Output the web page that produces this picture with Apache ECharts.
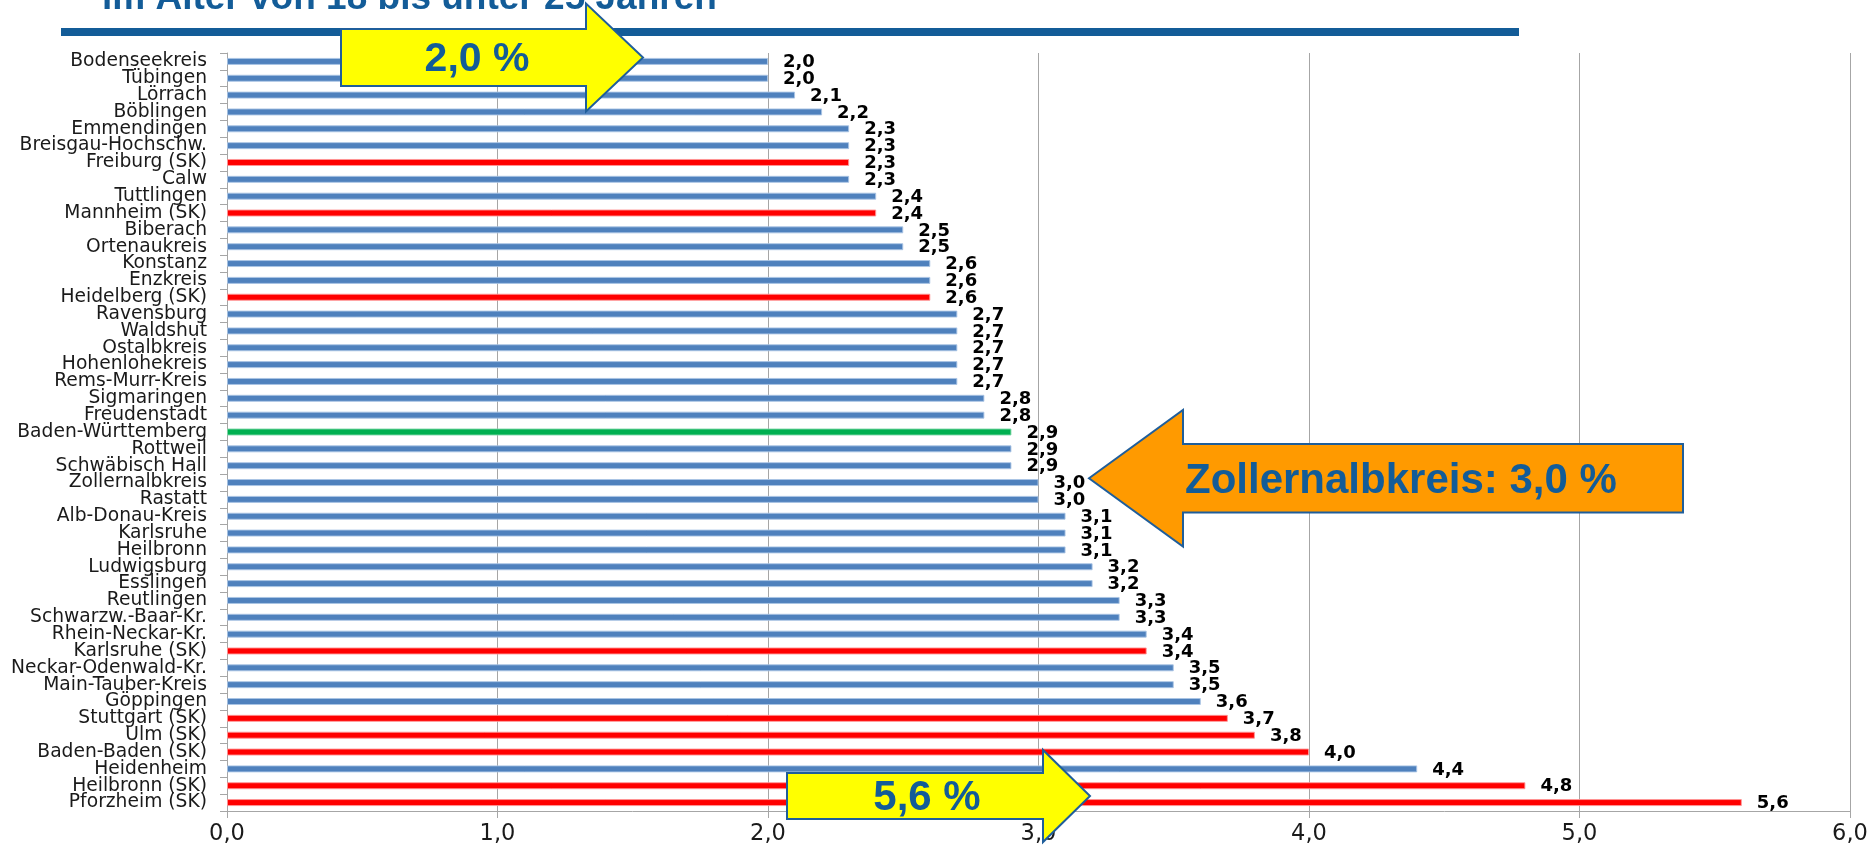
<!DOCTYPE html>
<html>
<head>
<meta charset="utf-8">
<script src="https://cdn.jsdelivr.net/npm/echarts@6/dist/echarts.min.js"></script>
<style>
html,body{margin:0;padding:0;background:#fff;}
#chart{width:1876px;height:846px;}
</style>
</head>
<body>
<div id="chart"></div>
<script>
const titleText = 'im Alter von 18 bis unter 25 Jahren';

const categories = [
  'Bodenseekreis','Tübingen','Lörrach','Böblingen','Emmendingen','Breisgau-Hochschw.',
  'Freiburg (SK)','Calw','Tuttlingen','Mannheim (SK)','Biberach','Ortenaukreis',
  'Konstanz','Enzkreis','Heidelberg (SK)','Ravensburg','Waldshut','Ostalbkreis',
  'Hohenlohekreis','Rems-Murr-Kreis','Sigmaringen','Freudenstadt','Baden-Württemberg',
  'Rottweil','Schwäbisch Hall','Zollernalbkreis','Rastatt','Alb-Donau-Kreis',
  'Karlsruhe','Heilbronn','Ludwigsburg','Esslingen','Reutlingen','Schwarzw.-Baar-Kr.',
  'Rhein-Neckar-Kr.','Karlsruhe (SK)','Neckar-Odenwald-Kr.','Main-Tauber-Kreis',
  'Göppingen','Stuttgart (SK)','Ulm (SK)','Baden-Baden (SK)','Heidenheim',
  'Heilbronn (SK)','Pforzheim (SK)'
];

const values = [
  2.0, 2.0, 2.1, 2.2, 2.3, 2.3,
  2.3, 2.3, 2.4, 2.4, 2.5, 2.5,
  2.6, 2.6, 2.6, 2.7, 2.7, 2.7,
  2.7, 2.7, 2.8, 2.8, 2.9,
  2.9, 2.9, 3.0, 3.0, 3.1,
  3.1, 3.1, 3.2, 3.2, 3.3, 3.3,
  3.4, 3.4, 3.5, 3.5,
  3.6, 3.7, 3.8, 4.0, 4.4,
  4.8, 5.6
];

// K = Landkreis, S = Stadtkreis, L = Land
const groups = [
  'K','K','K','K','K','K',
  'S','K','K','S','K','K',
  'K','K','S','K','K','K',
  'K','K','K','K','L',
  'K','K','K','K','K',
  'K','K','K','K','K','K',
  'K','S','K','K',
  'K','S','S','S','K',
  'S','S'
];

const xTicks = [0, 1, 2, 3, 4, 5, 6];

const annotations = {
  top: '2,0 %',
  middle: 'Zollernalbkreis: 3,0 %',
  bottom: '5,6 %'
};

const fills = { K: '#4F81BD', S: '#FF0000', L: '#00B050' };
const edges = { K: 'rgba(170,196,228,0.9)', S: 'rgba(255,150,150,0.9)', L: 'rgba(130,215,170,0.9)' };
const fmt = v => v.toFixed(1).replace('.', ',');
const darkBlue = '#135C98';

const chart = echarts.init(document.getElementById('chart'), null, { renderer: 'canvas' });

const seriesData = values.map((v, i) => ({
  value: v,
  itemStyle: { color: fills[groups[i]], borderColor: edges[groups[i]], borderWidth: 1 }
}));

function arrowRight(x0, x1, xTip, yc, hs, hh) {
  return [[x0, yc - hs], [x1, yc - hs], [x1, yc - hh], [xTip, yc], [x1, yc + hh], [x1, yc + hs], [x0, yc + hs]];
}
function arrowLeft(xTip, x1, x0, yc, hs, hh) {
  return [[xTip, yc], [x1, yc - hh], [x1, yc - hs], [x0, yc - hs], [x0, yc + hs], [x1, yc + hs], [x1, yc + hh]];
}

const option = {
  backgroundColor: '#ffffff',
  animation: false,
  grid: { left: 227, right: 26, top: 53, bottom: 33, containLabel: false },
  xAxis: {
    type: 'value',
    min: xTicks[0],
    max: xTicks[xTicks.length - 1],
    interval: 1,
    axisLine: { show: true, lineStyle: { color: '#A6A6A6', width: 1 } },
    axisTick: { show: true, length: 7, lineStyle: { color: '#A6A6A6' } },
    splitLine: { show: true, lineStyle: { color: '#A6A6A6', width: 1 } },
    axisLabel: {
      formatter: v => fmt(v),
      fontFamily: 'DejaVu Sans',
      fontSize: 22.5,
      color: '#1a1a1a',
      margin: 12
    }
  },
  yAxis: {
    type: 'category',
    data: categories,
    inverse: true,
    axisLine: { show: true, lineStyle: { color: '#A6A6A6', width: 1 } },
    axisTick: { show: true, length: 7, lineStyle: { color: '#A6A6A6' } },
    splitLine: { show: false },
    axisLabel: {
      interval: 0,
      fontFamily: 'DejaVu Sans',
      fontSize: 18.7,
      color: '#1a1a1a',
      margin: 20
    }
  },
  series: [{
    type: 'bar',
    data: seriesData,
    barWidth: 7,
    label: {
      show: true,
      position: 'right',
      distance: 15,
      offset: [0, 1],
      formatter: p => fmt(p.value),
      fontFamily: 'DejaVu Sans',
      fontWeight: 'bold',
      fontSize: 18,
      color: '#000000'
    }
  }],
  graphic: [
    {
      type: 'text', z: 10,
      style: {
        text: titleText, x: 102, y: 17,
        font: 'bold 37px "Liberation Sans", Arial, sans-serif',
        fill: darkBlue, verticalAlign: 'bottom'
      }
    },
    {
      type: 'rect', z: 11,
      shape: { x: 61, y: 28, width: 1458, height: 8 },
      style: { fill: darkBlue }
    },
    {
      type: 'polygon', z: 20,
      shape: { points: arrowRight(341, 586, 643, 57.5, 28.5, 54) },
      style: { fill: '#FFFF00', stroke: '#1F5E9B', lineWidth: 2 }
    },
    {
      type: 'text', z: 21,
      style: {
        text: annotations.top, x: 477, y: 60,
        font: 'bold 41px "Liberation Sans", Arial, sans-serif',
        fill: darkBlue, align: 'center', verticalAlign: 'middle'
      }
    },
    {
      type: 'polygon', z: 20,
      shape: { points: arrowLeft(1089, 1183, 1683, 478.3, 34.3, 68.3) },
      style: { fill: '#FF9A00', stroke: '#1F5E9B', lineWidth: 2 }
    },
    {
      type: 'text', z: 21,
      style: {
        text: annotations.middle, x: 1185, y: 481,
        font: 'bold 42px "Liberation Sans", Arial, sans-serif',
        fill: darkBlue, align: 'left', verticalAlign: 'middle'
      }
    },
    {
      type: 'polygon', z: 20,
      shape: { points: arrowRight(787, 1043, 1090, 796, 23, 46) },
      style: { fill: '#FFFF00', stroke: '#1F5E9B', lineWidth: 2 }
    },
    {
      type: 'text', z: 21,
      style: {
        text: annotations.bottom, x: 927, y: 798,
        font: 'bold 42px "Liberation Sans", Arial, sans-serif',
        fill: darkBlue, align: 'center', verticalAlign: 'middle'
      }
    }
  ]
};

chart.setOption(option);
</script>
</body>
</html>
